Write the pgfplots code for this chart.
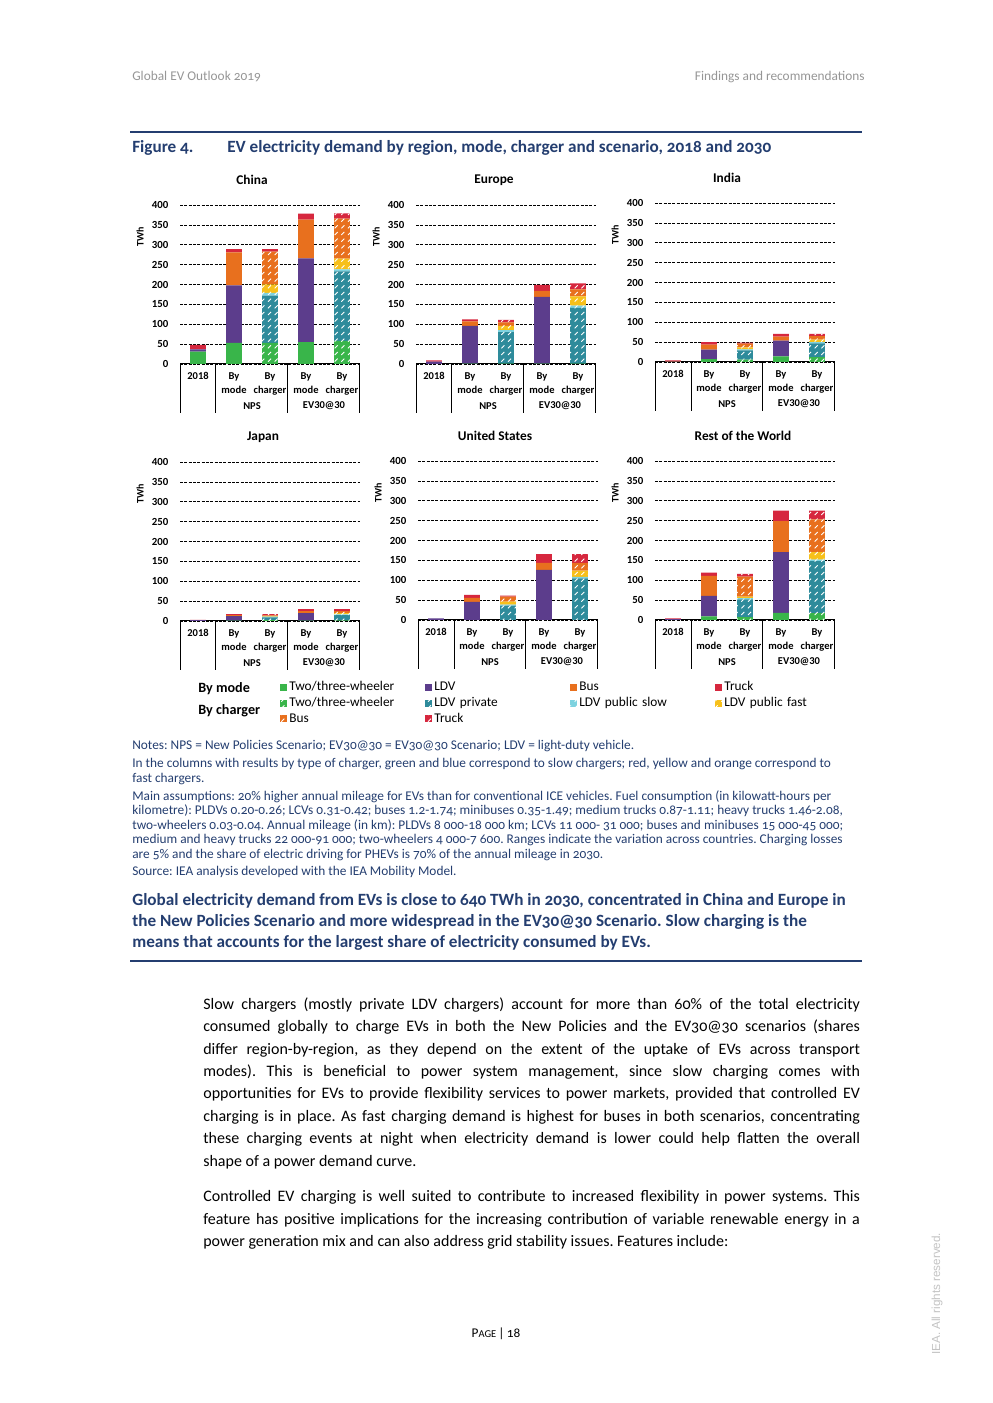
\documentclass[border=0pt]{standalone}
\usepackage{fontspec}
\setmainfont{Carlito}[Numbers=OldStyle]
\newfontfamily\chartfont{Carlito}[Numbers=Lining]
\newfontfamily\arialfont{Liberation Sans}
\usepackage{pgfplots}
\usepackage{pgfplotstable}
\pgfplotsset{compat=1.18}
\usetikzlibrary{patterns}
\frenchspacing

\definecolor{cgreen}{RGB}{57,181,74}
\definecolor{cpurple}{RGB}{92,61,140}
\definecolor{corange}{RGB}{232,112,30}
\definecolor{cred}{RGB}{214,39,62}
\definecolor{cteal}{RGB}{46,139,155}
\definecolor{ccyan}{RGB}{125,210,223}
\definecolor{cyellow}{RGB}{247,192,26}
\definecolor{navy}{RGB}{36,62,112}
\definecolor{hgray}{RGB}{150,150,150}
\definecolor{lgray}{RGB}{195,195,195}

\pgfdeclarepatternformonly{dashdiag}{\pgfqpoint{-0.5pt}{-0.5pt}}{\pgfqpoint{4.5pt}{4.5pt}}{\pgfqpoint{4pt}{4pt}}{%
  \pgfsetlinewidth{0.5pt}%
  \pgfpathmoveto{\pgfqpoint{0.8pt}{0.8pt}}%
  \pgfpathlineto{\pgfqpoint{2.6pt}{2.6pt}}%
  \pgfusepath{stroke}}

% columns: x, two/three-wheeler, LDV, bus, truck (by mode);
% two/three-wheeler, LDV private, LDV public slow, LDV public fast, bus, truck (by charger)
\pgfplotstableread{
x tw ldv bus trk twc prv slw fst busc trkc
0 31 6 0 11 0 0 0 0 0 0
1 53 145 83 8 0 0 0 0 0 0
2 0 0 0 0 53 119 7 21 83 6
3 55 211 97 15 0 0 0 0 0 0
4 0 0 0 0 58 175 5 27 101 13
}\tabChina
\pgfplotstableread{
x tw ldv bus trk twc prv slw fst busc trkc
0 0 6 0 3 0 0 0 0 0 0
1 1 95 11 5 0 0 0 0 0 0
2 0 0 0 0 1 79 5 11 9 6
3 1 168 15 15 0 0 0 0 0 0
4 0 0 0 0 1 140 6 23 18 15
}\tabEurope
\pgfplotstableread{
x tw ldv bus trk twc prv slw fst busc trkc
0 0 1 1 2 0 0 0 0 0 0
1 7 24 13 6 0 0 0 0 0 0
2 0 0 0 0 6 23 3 5 9 3
3 14 40 10 7 0 0 0 0 0 0
4 0 0 0 0 12 35 3 6 9 6
}\tabIndia
\pgfplotstableread{
x tw ldv bus trk twc prv slw fst busc trkc
0 0 2 0 1 0 0 0 0 0 0
1 1 11 2.5 2.5 0 0 0 0 0 0
2 0 0 0 0 2 7 2 1 2 3
3 1 19 5 5 0 0 0 0 0 0
4 0 0 0 0 1.5 13.5 1.5 3.5 5 5
}\tabJapan
\pgfplotstableread{
x tw ldv bus trk twc prv slw fst busc trkc
0 0 4 0 0 0 0 0 0 0 0
1 0 45.5 10 7.5 0 0 0 0 0 0
2 0 0 0 0 0 36 2.5 7.5 12.5 3
3 0 126 17.5 22.5 0 0 0 0 0 0
4 0 0 0 0 0 104.5 4 16 19 22.5
}\tabUS
\pgfplotstableread{
x tw ldv bus trk twc prv slw fst busc trkc
0 0 2 0 2 0 0 0 0 0 0
1 9 52 50 8 0 0 0 0 0 0
2 0 0 0 0 7 45 3 4 50 7
3 18 153 78 26 0 0 0 0 0 0
4 0 0 0 0 17 131 4 19 82 22
}\tabRow

\pgfplotsset{
  md/.style={fill=#1, draw=none},
  ch/.style={fill=#1, draw=none, postaction={pattern=dashdiag, pattern color=white}},
  panel/.style={
    ybar stacked, bar width=0.44,
    scale only axis, width=108pt, height=95.4pt,
    anchor=south west, clip=false,
    xmin=-0.5, xmax=4.5, ymin=0, ymax=400,
    ytick={0,50,...,400},
    xtick={0,1,2,3,4},
    xticklabels={{2018},{By\\mode},{By\\charger},{By\\mode},{By\\charger}},
    major tick length=0pt,
    axis line style={draw=none},
    ymajorgrids,
    major grid style={black, line width=0.4pt, dash pattern=on 1.7pt off 0.9pt},
    /pgf/number format/assume math mode=true,
    yticklabel style={font=\chartfont\bfseries\fontsize{6.5}{7}\selectfont, xshift=-3.5pt},
    xticklabel style={font=\chartfont\bfseries\fontsize{6.3}{8.4}\selectfont, align=center, anchor=north, yshift=-1.5pt},
  },
}

\newcommand{\panelbars}[1]{%
  \addplot[md=cgreen] table[x=x,y=tw]{#1};
  \addplot[md=cpurple] table[x=x,y=ldv]{#1};
  \addplot[md=corange] table[x=x,y=bus]{#1};
  \addplot[md=cred] table[x=x,y=trk]{#1};
  \addplot[ch=cgreen] table[x=x,y=twc]{#1};
  \addplot[ch=cteal] table[x=x,y=prv]{#1};
  \addplot[ch=ccyan] table[x=x,y=slw]{#1};
  \addplot[ch=cyellow] table[x=x,y=fst]{#1};
  \addplot[ch=corange] table[x=x,y=busc]{#1};
  \addplot[ch=cred] table[x=x,y=trkc]{#1};
}
\newcommand{\paneldeco}{%
  \draw[line width=0.6pt] (axis cs:-0.5,0) -- (axis cs:4.5,0);
  \draw[line width=0.6pt] (axis cs:-0.5,0) -- ([yshift=-29.4pt]axis cs:-0.5,0);
  \draw[line width=0.6pt] (axis cs:0.5,0) -- ([yshift=-29.4pt]axis cs:0.5,0);
  \draw[line width=0.6pt] (axis cs:2.5,0) -- ([yshift=-29.4pt]axis cs:2.5,0);
  \draw[line width=0.6pt] (axis cs:4.5,0) -- ([yshift=-29.4pt]axis cs:4.5,0);
  \node[font=\chartfont\bfseries\fontsize{6.3}{7}\selectfont] at ([yshift=-25.2pt]axis cs:1.5,0) {NPS};
  \node[font=\chartfont\bfseries\fontsize{6.3}{7}\selectfont] at ([yshift=-25.2pt]axis cs:3.5,0) {EV30@30};
  \node[rotate=90, font=\chartfont\bfseries\fontsize{6}{7}\selectfont] at ([xshift=-24pt]rel axis cs:0,0.8) {TWh};
}

\begin{document}
\begin{tikzpicture}[x=0.6pt,y=-0.6pt]
\useasboundingbox (0,0) rectangle (992,1403);
\fill[white] (0,0) rectangle (992,1403);

% header
\node[anchor=west, text=hgray, font=\fontsize{8}{9}\selectfont, inner sep=0pt] at (132,77) {Global EV Outlook 2019};
\node[anchor=east, text=hgray, font=\fontsize{8}{9}\selectfont, inner sep=0pt] at (865,77) {Findings and recommendations};
\draw[navy, line width=0.9pt] (130,132) -- (862,132);
\node[anchor=west, text=navy, font=\bfseries\fontsize{10.3}{11}\selectfont, inner sep=0pt] at (132,148) {Figure 4.};
\node[anchor=west, text=navy, font=\bfseries\fontsize{10.3}{11}\selectfont, inner sep=0pt] at (227,148) {EV electricity demand by region, mode, charger and scenario, 2018 and 2030};

% panel titles
\begin{scope}[every node/.style={font=\chartfont\bfseries\fontsize{8}{9}\selectfont}]
\node at (252,180) {China};
\node at (494,180) {Europe};
\node at (727,178) {India};
\node at (263,437) {Japan};
\node at (495,436) {United States};
\node at (743,436) {Rest of the World};
\end{scope}

\begin{axis}[panel, at={(108pt,-218.4pt)}]
\panelbars{\tabChina}
\paneldeco
\end{axis}
\begin{axis}[panel, at={(249.6pt,-218.4pt)}]
\panelbars{\tabEurope}
\paneldeco
\end{axis}
\begin{axis}[panel, at={(393pt,-217.2pt)}]
\panelbars{\tabIndia}
\paneldeco
\end{axis}
\begin{axis}[panel, at={(108pt,-372.6pt)}]
\panelbars{\tabJapan}
\paneldeco
\end{axis}
\begin{axis}[panel, at={(250.8pt,-372pt)}]
\panelbars{\tabUS}
\paneldeco
\end{axis}
\begin{axis}[panel, at={(393pt,-372pt)}]
\panelbars{\tabRow}
\paneldeco
\end{axis}

% legend
\node[anchor=west, font=\chartfont\bfseries\fontsize{8.5}{9}\selectfont, inner sep=0pt] at (198,689) {By mode};
\node[anchor=west, font=\chartfont\bfseries\fontsize{8.5}{9}\selectfont, inner sep=0pt] at (198,711) {By charger};
\begin{axis}[at={(168pt,-407.4pt)}, anchor=north west, hide axis, scale only axis,
  width=5pt, height=5pt, xmin=0, xmax=1, ymin=0, ymax=1,
  legend columns=4,
  legend style={at={(0,1)}, anchor=north west, draw=none, fill=none, inner sep=0pt,
    font=\chartfont\fontsize{8}{8.5}\selectfont,
    nodes={anchor=west, inner xsep=1.2pt, inner ysep=1.3pt, text height=5.4pt, text depth=1.5pt, text width=80.4pt},
    row sep=0pt, column sep=0pt},
  legend image code/.code={\fill[#1] (0pt,-2.1pt) rectangle (4.2pt,2.1pt);}]
\addlegendimage{md=cgreen}\addlegendentry{Two/three-wheeler}
\addlegendimage{md=cpurple}\addlegendentry{LDV}
\addlegendimage{md=corange}\addlegendentry{Bus}
\addlegendimage{md=cred}\addlegendentry{Truck}
\addlegendimage{ch=cgreen}\addlegendentry{Two/three-wheeler}
\addlegendimage{ch=cteal}\addlegendentry{LDV private}
\addlegendimage{ch=ccyan}\addlegendentry{LDV public slow}
\addlegendimage{ch=cyellow}\addlegendentry{LDV public fast}
\addlegendimage{ch=corange}\addlegendentry{Bus}
\addlegendimage{ch=cred}\addlegendentry{Truck}
\end{axis}

% notes
\begin{scope}[every node/.style={anchor=west, text=navy, font=\fontsize{8}{9}\selectfont, inner sep=0pt}]
\node at (132,746) {Notes: NPS = New Policies Scenario; EV30@30 = EV30@30 Scenario; LDV = light-duty vehicle.};
\node at (132,764) {In the columns with results by type of charger, green and blue correspond to slow chargers; red, yellow and orange correspond to};
\node at (132,779) {fast chargers.};
\node at (132,797) {Main assumptions: 20\% higher annual mileage for EVs than for conventional ICE vehicles. Fuel consumption (in kilowatt-hours per};
\node at (132,811) {kilometre): PLDVs 0.20-0.26; LCVs 0.31-0.42; buses 1.2-1.74; minibuses 0.35-1.49; medium trucks 0.87-1.11; heavy trucks 1.46-2.08,};
\node at (132,826) {two-wheelers 0.03-0.04. Annual mileage (in km): PLDVs 8 000-18 000 km; LCVs 11 000- 31 000; buses and minibuses 15 000-45 000;};
\node at (132,840) {medium and heavy trucks 22 000-91 000; two-wheelers 4 000-7 600. Ranges indicate the variation across countries. Charging losses};
\node at (132,855) {are 5\% and the share of electric driving for PHEVs is 70\% of the annual mileage in 2030.};
\node at (132,872) {Source: IEA analysis developed with the IEA Mobility Model.};
\end{scope}

% key message
\begin{scope}[every node/.style={anchor=west, text=navy, font=\bfseries\fontsize{10.3}{11}\selectfont, inner sep=0pt}]
\node at (132,901) {Global electricity demand from EVs is close to 640 TWh in 2030, concentrated in China and Europe in};
\node at (132,922) {the New Policies Scenario and more widespread in the EV30@30 Scenario. Slow charging is the};
\node at (132,943) {means that accounts for the largest share of electricity consumed by EVs.};
\end{scope}
\draw[navy, line width=1.1pt] (130,961) -- (862,961);

% body text
\begin{scope}[every node/.style={anchor=west, font=\fontsize{9.6}{11}\selectfont, inner sep=0pt}]
\node at (203,1005) {\makebox[394pt][s]{Slow chargers (mostly private LDV chargers) account for more than 60\% of the total electricity}};
\node at (203,1027) {\makebox[394pt][s]{consumed globally to charge EVs in both the New Policies and the EV30@30 scenarios (shares}};
\node at (203,1050) {\makebox[394pt][s]{differ region-by-region, as they depend on the extent of the uptake of EVs across transport}};
\node at (203,1072) {\makebox[394pt][s]{modes). This is beneficial to power system management, since slow charging comes with}};
\node at (203,1094) {\makebox[394pt][s]{opportunities for EVs to provide flexibility services to power markets, provided that controlled EV}};
\node at (203,1117) {\makebox[394pt][s]{charging is in place. As fast charging demand is highest for buses in both scenarios, concentrating}};
\node at (203,1139) {\makebox[394pt][s]{these charging events at night when electricity demand is lower could help flatten the overall}};
\node at (203,1162) {shape of a power demand curve.};
\node at (203,1197) {\makebox[394pt][s]{Controlled EV charging is well suited to contribute to increased flexibility in power systems. This}};
\node at (203,1220) {\makebox[394pt][s]{feature has positive implications for the increasing contribution of variable renewable energy in a}};
\node at (203,1242) {power generation mix and can also address grid stability issues. Features include:};
\end{scope}

% footer
\node[font=\fontsize{8}{9}\selectfont, inner sep=0pt] at (496,1334) {P{\fontsize{6.3}{7}\selectfont AGE}\,|\,18};
\node[rotate=90, anchor=west, text=lgray, font=\arialfont\fontsize{7}{8}\selectfont, inner sep=0pt] at (937,1355) {IEA. All rights reserved.};
\end{tikzpicture}
\end{document}
